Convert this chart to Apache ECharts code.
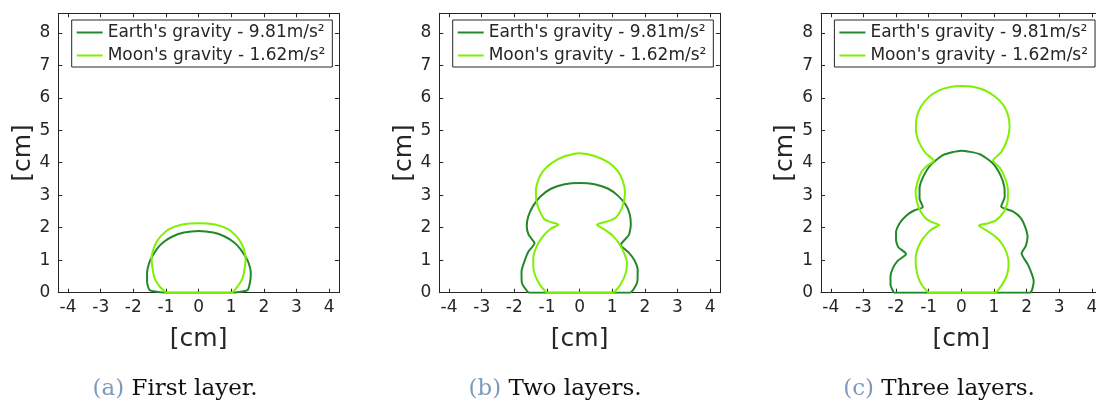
<!DOCTYPE html>
<html><head><meta charset="utf-8">
<script src="https://cdn.jsdelivr.net/npm/echarts@6/dist/echarts.min.js"></script>
<style>html,body{margin:0;padding:0;background:#fff}#c{width:1096px;height:403px}</style>
</head><body><div id="c"></div><script>
// ---------- data ----------
const X_TICKS = [-4, -3, -2, -1, 0, 1, 2, 3, 4];
const Y_TICKS = [0, 1, 2, 3, 4, 5, 6, 7, 8];
const X_RANGE = [-4.3, 4.3];
const Y_RANGE = [0, 8.6];
const SERIES_NAMES = ["Earth's gravity - 9.81m/s²", "Moon's gravity - 1.62m/s²"];
const AXIS_NAME = '[cm]';
const CAPTION_TAGS = ['(a)', '(b)', '(c)'];
const CAPTIONS = ['First layer.', 'Two layers.', 'Three layers.'];

// (a) first layer
const earthA = [[-1.0,0],[-1.5,0.08],[-1.58,0.35],[-1.58,0.6],[-1.52,0.9],[-1.42,1.12],[-1.27,1.36],[-1.07,1.56],[-0.8,1.73],[-0.45,1.85],[0,1.9],[0.45,1.85],[0.8,1.73],[1.07,1.56],[1.27,1.36],[1.43,1.12],[1.54,0.9],[1.6,0.6],[1.58,0.35],[1.5,0.08],[1.0,0],[-1.0,0]];
const moonA = [[-1.0,0],[-1.2,0.2],[-1.35,0.45],[-1.42,0.8],[-1.44,1.05],[-1.4,1.3],[-1.3,1.54],[-1.15,1.75],[-0.9,1.96],[-0.5,2.1],[0,2.14],[0.5,2.1],[0.9,1.96],[1.15,1.75],[1.3,1.54],[1.4,1.3],[1.44,1.05],[1.42,0.8],[1.35,0.45],[1.2,0.2],[1.0,0],[-1.0,0]];

// (b) two layers
const earthB = [[-1.57,0],[-1.77,0.3],[-1.78,0.65],[-1.68,1.0],[-1.56,1.28],[-1.38,1.52],[-1.56,1.78],[-1.62,2.05],[-1.57,2.36],[-1.42,2.68],[-1.2,2.96],[-0.88,3.2],[-0.46,3.34],[0,3.38],[0.46,3.34],[0.88,3.2],[1.18,2.98],[1.42,2.7],[1.54,2.4],[1.57,2.1],[1.51,1.78],[1.26,1.47],[1.5,1.24],[1.68,1.0],[1.78,0.7],[1.77,0.34],[1.54,0],[-1.57,0]];
const moonB = [[-1.0,0],[-1.2,0.22],[-1.35,0.5],[-1.42,0.8],[-1.42,1.05],[-1.36,1.32],[-1.22,1.6],[-1.05,1.82],[-0.88,1.97],[-0.65,2.1],[-0.9,2.18],[-1.08,2.26],[-1.24,2.55],[-1.33,2.85],[-1.34,3.15],[-1.27,3.46],[-1.12,3.74],[-0.86,3.99],[-0.46,4.2],[0,4.29],[0.46,4.21],[0.88,4.01],[1.16,3.76],[1.32,3.45],[1.39,3.1],[1.36,2.82],[1.27,2.55],[1.12,2.32],[0.93,2.22],[0.53,2.09],[0.8,1.92],[1.02,1.75],[1.22,1.5],[1.37,1.2],[1.45,0.92],[1.42,0.62],[1.25,0.25],[1.0,0],[-1.0,0]];

// (c) three layers
const earthC = [[-2.07,0],[-2.17,0.25],[-2.17,0.5],[-2.1,0.75],[-1.95,0.98],[-1.69,1.19],[-1.93,1.4],[-2.0,1.62],[-2.0,1.85],[-1.88,2.15],[-1.68,2.38],[-1.45,2.53],[-1.18,2.64],[-1.28,2.9],[-1.28,3.2],[-1.19,3.52],[-0.95,3.92],[-0.55,4.24],[0,4.37],[0.55,4.27],[0.95,4.0],[1.2,3.62],[1.32,3.25],[1.33,2.95],[1.22,2.65],[1.58,2.5],[1.82,2.3],[1.96,2.02],[2.03,1.72],[1.98,1.45],[1.85,1.21],[2.05,0.85],[2.17,0.55],[2.22,0.35],[2.1,0],[-2.07,0]];
const moonC = [[-1.0,0],[-1.2,0.22],[-1.33,0.5],[-1.39,0.8],[-1.4,1.05],[-1.35,1.32],[-1.22,1.6],[-1.05,1.82],[-0.88,1.97],[-0.67,2.08],[-0.92,2.18],[-1.1,2.3],[-1.26,2.52],[-1.36,2.8],[-1.4,3.1],[-1.33,3.45],[-1.2,3.75],[-1.03,3.92],[-0.84,4.06],[-1.1,4.3],[-1.3,4.65],[-1.39,5.0],[-1.37,5.38],[-1.24,5.72],[-1.0,6.02],[-0.68,6.23],[-0.3,6.34],[0,6.36],[0.3,6.35],[0.7,6.24],[1.04,6.03],[1.3,5.76],[1.44,5.44],[1.48,5.1],[1.41,4.72],[1.22,4.32],[0.97,4.07],[1.18,3.85],[1.35,3.5],[1.43,3.15],[1.42,2.8],[1.3,2.48],[1.05,2.22],[0.8,2.13],[0.54,2.07],[0.8,1.9],[1.05,1.72],[1.25,1.5],[1.4,1.2],[1.45,0.9],[1.4,0.55],[1.25,0.25],[1.03,0],[-1.0,0]];

const PANELS = [[earthA, moonA], [earthB, moonB], [earthC, moonC]];

// ---------- layout / style ----------
const GRID_LEFT = [58.3, 439.3, 821];
const GRID_TOP = 13.3, GRID_W = 280.6, GRID_H = 279.4;
const COLORS = ['#22882a', '#7ff000'];
const AX = '#262626';
const FONT = 'DejaVu Sans';

const chart = echarts.init(document.getElementById('c'), null, {renderer: 'canvas'});

const grid = [], xAxis = [], yAxis = [], series = [], legend = [], graphic = [];
PANELS.forEach((panel, i) => {
  grid.push({left: GRID_LEFT[i], top: GRID_TOP, width: GRID_W, height: GRID_H, containLabel: false, outerBoundsMode: 'none'});
  const common = {
    type: 'value', gridIndex: i,
    axisLine: {show: true, onZero: false, lineStyle: {color: AX, width: 1}},
    axisTick: {show: true, inside: true, length: 4, lineStyle: {color: AX, width: 1}},
    splitLine: {show: false}
  };
  xAxis.push(Object.assign({}, common, {
    position: 'bottom', min: X_RANGE[0], max: X_RANGE[1],
    axisTick: Object.assign({}, common.axisTick, {customValues: X_TICKS}),
    axisLabel: {show: true, customValues: X_TICKS, margin: 6, color: AX, fontFamily: FONT, fontSize: 17},
    name: AXIS_NAME, nameLocation: 'middle', nameGap: 34,
    nameTextStyle: {color: AX, fontFamily: FONT, fontSize: 25}
  }));
  xAxis.push(Object.assign({}, common, {
    position: 'top', min: X_RANGE[0], max: X_RANGE[1],
    axisTick: Object.assign({}, common.axisTick, {customValues: X_TICKS}),
    axisLabel: {show: false}
  }));
  yAxis.push(Object.assign({}, common, {
    position: 'left', min: Y_RANGE[0], max: Y_RANGE[1],
    axisTick: Object.assign({}, common.axisTick, {customValues: Y_TICKS}),
    axisLabel: {show: true, customValues: Y_TICKS, margin: 8, color: AX, fontFamily: FONT, fontSize: 17},
    name: AXIS_NAME, nameLocation: 'middle', nameGap: 22,
    nameTextStyle: {color: AX, fontFamily: FONT, fontSize: 25}
  }));
  yAxis.push(Object.assign({}, common, {
    position: 'right', min: Y_RANGE[0], max: Y_RANGE[1],
    axisTick: Object.assign({}, common.axisTick, {customValues: Y_TICKS}),
    axisLabel: {show: false}
  }));
  panel.forEach((data, k) => {
    series.push({
      type: 'line', name: SERIES_NAMES[k], xAxisIndex: 2 * i, yAxisIndex: 2 * i,
      data: data, symbol: 'none', showSymbol: false, smooth: 0.2, clip: true,
      lineStyle: {color: COLORS[k], width: 2}, itemStyle: {color: COLORS[k]},
      animation: false, z: 3 + k
    });
  });
  legend.push({
    orient: 'vertical', left: GRID_LEFT[i] + 13.4, top: 20,
    data: SERIES_NAMES, icon: 'rect', itemWidth: 26, itemHeight: 2, itemGap: 4,
    padding: [3, 7, 2, 5], borderColor: AX, borderWidth: 1, backgroundColor: '#fff',
    textStyle: {color: AX, fontFamily: FONT, fontSize: 17, lineHeight: 19},
    selectedMode: false
  });
});

const CAP_X = [175, 555, 939];
CAPTIONS.forEach((c, i) => {
  graphic.push({
    type: 'text', x: CAP_X[i], y: 389,
    style: {
      text: '{t|' + CAPTION_TAGS[i] + '} {c|' + c + '}',
      textAlign: 'center', textVerticalAlign: 'middle',
      font: '23px "DejaVu Serif"',
      rich: {
        t: {fill: '#7b9bbd', fontFamily: 'DejaVu Serif', fontSize: 23},
        c: {fill: '#111', fontFamily: 'DejaVu Serif', fontSize: 23}
      }
    }
  });
});

chart.setOption({
  animation: false,
  backgroundColor: '#fff',
  grid, xAxis, yAxis, series, legend, graphic
});
</script></body></html>
